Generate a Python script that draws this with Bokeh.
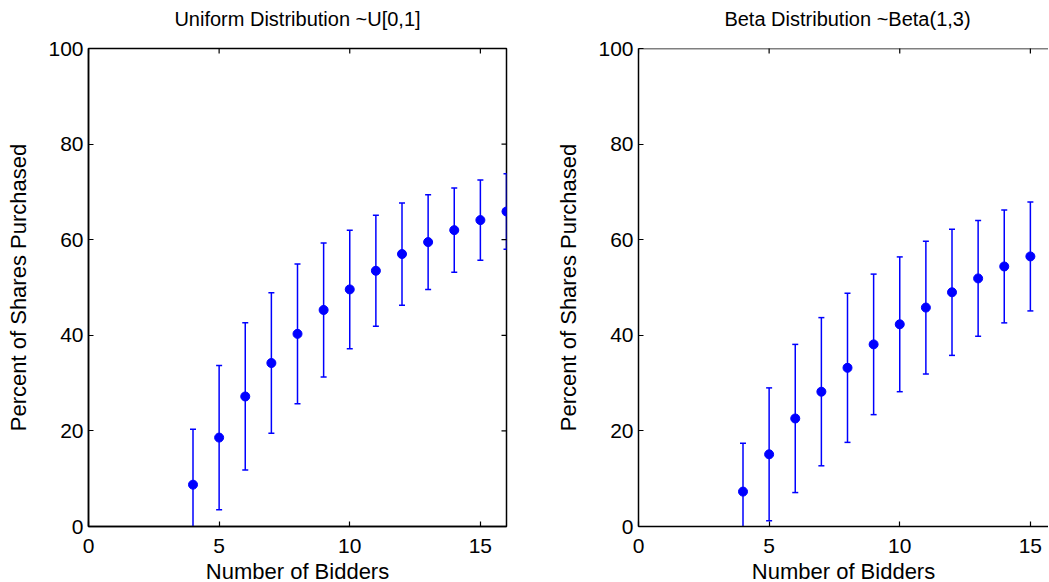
import math
from bokeh.plotting import figure
from bokeh.models import (ColumnDataSource, Whisker, TeeHead, Range1d, LinearAxis,
                          FixedTicker, Span)
from bokeh.core.properties import value
from bokeh.layouts import row, column
from bokeh.embed import file_html
from bokeh.resources import INLINE

# ---- data ----
bidders_u = [4, 5, 6, 7, 8, 9, 10, 11, 12, 13, 14, 15, 16]
uniform_mean = [8.75, 18.6, 27.2, 34.2, 40.3, 45.3, 49.6, 53.5, 57.0, 59.5, 62.0, 64.1, 65.9]
uniform_err = [11.6, 15.1, 15.4, 14.7, 14.6, 14.0, 12.4, 11.6, 10.7, 9.9, 8.8, 8.4, 7.9]

bidders_b = [4, 5, 6, 7, 8, 9, 10, 11, 12, 13, 14, 15]
beta_mean = [7.3, 15.1, 22.6, 28.2, 33.2, 38.1, 42.3, 45.8, 49.0, 51.9, 54.4, 56.5]
beta_err = [10.1, 13.9, 15.5, 15.5, 15.6, 14.7, 14.1, 13.9, 13.2, 12.1, 11.8, 11.4]

x_ticks = [0, 5, 10, 15]
y_ticks = [0, 20, 40, 60, 80, 100]

titles = ["Uniform Distribution ~U[0,1]", "Beta Distribution ~Beta(1,3)"]
x_label = "Number of Bidders"
y_label = "Percent of Shares Purchased"

FONT = "Liberation Sans"
TICK_FS = "21px"
LABEL_FS = "22px"
TITLE_FS = "20px"
BLUE = "#0000ff"
X_MAX = 16
Y_MAX = 100
TITLE_H = 36


def style_axis(ax):
    ax.axis_line_color = "black"
    ax.axis_line_width = 1.5
    ax.major_tick_line_color = "black"
    ax.major_tick_line_width = 1.2
    ax.major_tick_in = 5
    ax.major_tick_out = 0
    ax.minor_tick_line_color = None
    ax.major_label_text_font = FONT
    ax.major_label_text_font_size = TICK_FS
    ax.major_label_text_color = "black"
    ax.axis_label_text_font = FONT
    ax.axis_label_text_font_size = LABEL_FS
    ax.axis_label_text_font_style = "normal"
    ax.axis_label_text_color = "black"


def make_title(title, x_end, frame_w, left_b, right_b):
    t = figure(frame_width=frame_w, frame_height=TITLE_H,
               x_range=Range1d(0, x_end), y_range=Range1d(0, 1),
               output_backend="svg", toolbar_location=None,
               min_border_left=left_b, min_border_right=right_b,
               min_border_top=0, min_border_bottom=0,
               x_axis_location=None, y_axis_location=None)
    t.grid.visible = False
    t.outline_line_color = None
    t.background_fill_color = "white"
    t.border_fill_color = "white"
    t.text(x=[X_MAX / 2], y=[0.5], text=[title], text_align="center",
           text_baseline="middle", text_font=value(FONT),
           text_font_size=TITLE_FS, text_color="black")
    return t


def make_panel(xs, means, errs, x_end, frame_w, left_b, right_b, box_right):
    p = figure(frame_width=frame_w, frame_height=478,
               x_range=Range1d(0, x_end), y_range=Range1d(0, Y_MAX),
               output_backend="svg", toolbar_location=None,
               min_border_left=left_b, min_border_right=right_b,
               min_border_top=48 - TITLE_H, min_border_bottom=60,
               x_axis_location=None, y_axis_location=None)
    p.grid.visible = False
    p.background_fill_color = "white"
    p.border_fill_color = "white"

    bottom = LinearAxis(ticker=FixedTicker(ticks=x_ticks), axis_label=x_label)
    left = LinearAxis(ticker=FixedTicker(ticks=y_ticks), axis_label=y_label)
    style_axis(bottom)
    style_axis(left)
    bottom.major_label_standoff = 12
    bottom.axis_label_standoff = 3
    left.major_label_standoff = 5
    left.axis_label_standoff = 14
    p.add_layout(bottom, "below")
    p.add_layout(left, "left")

    # box: top edge (and right edge when it is visible) with inward ticks
    if box_right:
        p.outline_line_color = "black"
        p.outline_line_width = 1.5
        p.scatter(x=[x_end] * len(y_ticks), y=y_ticks, marker="dash", size=10,
                  line_color="black", line_width=1.2)
    else:
        p.outline_line_color = None
        p.add_layout(Span(location=Y_MAX, dimension="width",
                          line_color="black", line_width=1.5))
    p.scatter(x=x_ticks, y=[Y_MAX] * len(x_ticks), marker="dash", angle=math.pi / 2,
              size=10, line_color="black", line_width=1.2)

    upper = [m + e for m, e in zip(means, errs)]
    lower = [m - e for m, e in zip(means, errs)]
    src = ColumnDataSource(dict(x=xs, y=means, upper=upper, lower=lower))
    w = Whisker(base="x", upper="upper", lower="lower", source=src,
                line_color=BLUE, line_width=1.5,
                upper_head=TeeHead(size=6, line_color=BLUE, line_width=1.5),
                lower_head=TeeHead(size=6, line_color=BLUE, line_width=1.5))
    p.add_layout(w)
    p.scatter("x", "y", source=src, size=9, color=BLUE, line_color=BLUE)
    return p


x_end_right = 410 / 418 * X_MAX
t1 = make_title(titles[0], X_MAX, 418, 88, 44)
t2 = make_title(titles[1], x_end_right, 410, 88, 0)
p1 = make_panel(bidders_u, uniform_mean, uniform_err, X_MAX, 418, 88, 44, True)
p2 = make_panel(bidders_b, beta_mean, beta_err, x_end_right, 410, 88, 0, False)

layout = column(row(t1, t2), row(p1, p2))
open("out.html", "w").write(file_html(layout, INLINE))
